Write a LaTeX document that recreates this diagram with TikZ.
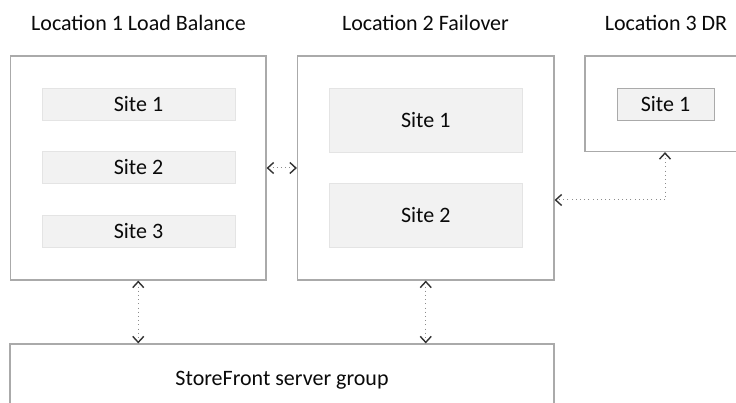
\documentclass[tikz,border=0pt]{standalone}
\usepackage{fontspec}
\setmainfont{Carlito}
\usetikzlibrary{arrows.meta}
\definecolor{boxline}{RGB}{170,170,170}
\definecolor{sitefill}{RGB}{242,242,242}
\definecolor{siteline}{RGB}{228,228,228}
\definecolor{tipcol}{RGB}{50,50,50}
\definecolor{dotcol}{RGB}{140,140,140}
\definecolor{txt}{RGB}{10,10,10}
\begin{document}
\begin{tikzpicture}[x=1pt,y=-1pt,
  every node/.style={font=\fontsize{22}{26}\selectfont, text=txt, inner sep=0pt},
  locbox/.style={draw=boxline, line width=1.2pt, fill=white, minimum width=#1},
  sitebox/.style={draw=siteline, line width=0.8pt, fill=sitefill},
  title/.style={anchor=base},
  link/.style={draw=dotcol, line width=1pt, dash pattern=on 1pt off 3.2pt,
    {Straight Barb[length=6pt,width=11pt,line width=1.4pt,color=tipcol]}-{Straight Barb[length=6pt,width=11pt,line width=1.4pt,color=tipcol]}}
]
\clip (0,0) rectangle (736,403);
\fill[white] (0,0) rectangle (736,403);

% titles
\node[title] (t1) at (138.5,31) {Location 1 Load Balance};
\node[title] (t2) at (425.5,31) {Location 2 Failover};
\node[title] (t3) at (666,31) {Location 3 DR};

% location boxes
\node[locbox=255.5pt, minimum height=224pt] (loc1) at (138.25,168) {};
\node[locbox=256.5pt, minimum height=224pt] (loc2) at (425.75,168) {};
\node[locbox=160pt, minimum height=95.5pt] (loc3) at (665,103.75) {};
\node[locbox=544pt, minimum height=80pt] (sf) at (282,384) {};
\node (sflabel) at (282,380.5) {StoreFront server group};

% sites
\node[sitebox, minimum width=193pt, minimum height=32pt] (s11) at (138.5,104) {Site 1};
\node[sitebox, minimum width=193pt, minimum height=32pt] (s12) at (138.5,167.5) {Site 2};
\node[sitebox, minimum width=193pt, minimum height=32pt] (s13) at (138.5,231.5) {Site 3};
\node[sitebox, minimum width=192.5pt, minimum height=64pt] (s21) at (425.75,120) {Site 1};
\node[sitebox, minimum width=192.5pt, minimum height=64pt] (s22) at (425.75,215.5) {Site 2};
\node[sitebox, draw=boxline, minimum width=97pt, minimum height=32pt] (s31) at (665.5,104) {Site 1};

% connectors
\draw[link] (loc1.east) -- (loc2.west);
\draw[link] (loc1.south) -- (loc1.south |- sf.north);
\draw[link] (loc2.south) -- (loc2.south |- sf.north);
\coordinate (bend) at (665,200);
\draw[link] (loc3.south) -- (bend) -- (bend -| loc2.east);
\end{tikzpicture}
\end{document}
